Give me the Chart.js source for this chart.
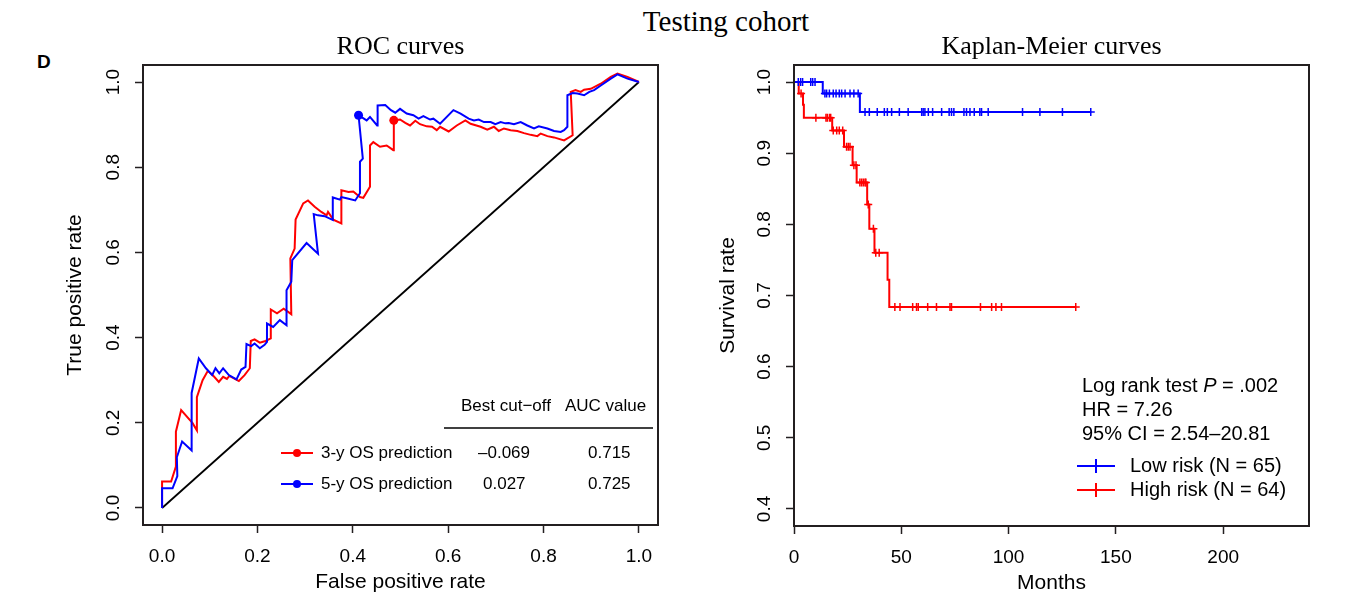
<!DOCTYPE html>
<html>
<head>
<meta charset="utf-8">
<script src="https://cdn.jsdelivr.net/npm/chart.js@4.4.1/dist/chart.umd.min.js"></script>
<style>
  body { margin: 0; width: 1365px; height: 606px; background: #fff; position: relative; overflow: hidden; }
  canvas { position: absolute; top: 0; }
  #roc { left: 0; }
  #km { left: 690px; }
  .txt { position: absolute; white-space: nowrap; color: #000; }
  #main { left: 726px; top: 7px; transform: translateX(-50%); font: 29px/29px "Liberation Serif", "Times New Roman", serif; }
  #panel { left: 37px; top: 52px; font: bold 19px/19px "Liberation Sans", Arial, sans-serif; }
</style>
</head>
<body>
<div class="txt" id="main">Testing cohort</div>
<div class="txt" id="panel">D</div>
<canvas id="roc" width="690" height="606" style="width:690px;height:606px"></canvas>
<canvas id="km" width="675" height="606" style="width:675px;height:606px"></canvas>
<script>
// ---- data ----
const rocTicks = [0, 0.2, 0.4, 0.6, 0.8, 1.0];
const diagonal = [0, 1];

// 3-year OS ROC (red)
const roc3Fpr = [0, 0, 0.019, 0.029, 0.029, 0.040, 0.064, 0.073, 0.073, 0.085, 0.096, 0.106, 0.119, 0.128, 0.136, 0.141,
  0.161, 0.173, 0.184, 0.186, 0.194, 0.205, 0.217, 0.228, 0.228, 0.241, 0.255, 0.271, 0.269, 0.278, 0.280, 0.296,
  0.306, 0.320, 0.334, 0.345, 0.348, 0.359, 0.376, 0.376, 0.391, 0.401, 0.415, 0.422, 0.436, 0.436, 0.443, 0.457,
  0.471, 0.485, 0.486, 0.499, 0.510, 0.520, 0.531, 0.541, 0.555, 0.566, 0.576, 0.583, 0.601, 0.618, 0.636, 0.647,
  0.668, 0.682, 0.696, 0.706, 0.717, 0.731, 0.745, 0.759, 0.773, 0.787, 0.794, 0.808, 0.822, 0.843, 0.861, 0.857,
  0.867, 0.878, 0.885, 0.899, 0.920, 0.941, 0.955, 0.976, 1.0];
const roc3Tpr = [0, 0.062, 0.062, 0.097, 0.179, 0.230, 0.199, 0.182, 0.260, 0.300, 0.322, 0.312, 0.296, 0.308, 0.303, 0.310,
  0.298, 0.312, 0.328, 0.392, 0.396, 0.388, 0.392, 0.398, 0.466, 0.457, 0.468, 0.455, 0.586, 0.609, 0.677, 0.715,
  0.722, 0.707, 0.695, 0.687, 0.695, 0.677, 0.668, 0.746, 0.742, 0.743, 0.730, 0.728, 0.754, 0.851, 0.859, 0.848,
  0.851, 0.840, 0.910, 0.912, 0.904, 0.898, 0.909, 0.901, 0.896, 0.895, 0.887, 0.895, 0.884, 0.898, 0.910, 0.902,
  0.895, 0.888, 0.895, 0.885, 0.891, 0.887, 0.885, 0.880, 0.876, 0.873, 0.879, 0.873, 0.870, 0.863, 0.875, 0.977,
  0.981, 0.977, 0.982, 0.984, 0.996, 1.012, 1.020, 1.012, 1.0];

// 5-year OS ROC (blue)
const roc5Fpr = [0, 0, 0.022, 0.032, 0.031, 0.042, 0.062, 0.062, 0.077, 0.092, 0.105, 0.112, 0.120, 0.128, 0.140, 0.156,
  0.166, 0.175, 0.177, 0.187, 0.194, 0.205, 0.215, 0.220, 0.220, 0.233, 0.247, 0.261, 0.261, 0.271, 0.273, 0.303,
  0.327, 0.318, 0.327, 0.341, 0.358, 0.358, 0.373, 0.376, 0.387, 0.405, 0.415, 0.415, 0.421, 0.412, 0.429, 0.436,
  0.451, 0.452, 0.468, 0.480, 0.489, 0.499, 0.513, 0.527, 0.538, 0.548, 0.562, 0.569, 0.583, 0.611, 0.626, 0.643,
  0.654, 0.664, 0.675, 0.689, 0.699, 0.710, 0.720, 0.727, 0.738, 0.752, 0.766, 0.780, 0.790, 0.808, 0.822, 0.836,
  0.843, 0.850, 0.850, 0.861, 0.871, 0.885, 0.896, 0.906, 0.920, 0.941, 0.955, 0.976, 1.0];
const roc5Tpr = [0, 0.046, 0.046, 0.075, 0.119, 0.156, 0.135, 0.270, 0.351, 0.328, 0.312, 0.328, 0.316, 0.328, 0.312, 0.302,
  0.325, 0.331, 0.385, 0.380, 0.386, 0.375, 0.383, 0.390, 0.433, 0.425, 0.441, 0.429, 0.511, 0.531, 0.582, 0.622,
  0.597, 0.690, 0.687, 0.685, 0.676, 0.729, 0.724, 0.730, 0.727, 0.722, 0.739, 0.813, 0.820, 0.922, 0.910, 0.918,
  0.898, 0.945, 0.946, 0.934, 0.928, 0.937, 0.926, 0.922, 0.914, 0.920, 0.912, 0.914, 0.902, 0.934, 0.926, 0.914,
  0.910, 0.912, 0.906, 0.906, 0.901, 0.906, 0.903, 0.904, 0.901, 0.906, 0.898, 0.891, 0.896, 0.891, 0.885, 0.883,
  0.887, 0.895, 0.969, 0.974, 0.973, 0.969, 0.977, 0.981, 0.992, 1.008, 1.018, 1.008, 1.0];

// best cut-off points: 3-y, 5-y
const cutFpr = [0.486, 0.412];
const cutTpr = [0.910, 0.922];

// Kaplan-Meier
const kmXTicks = [0, 50, 100, 150, 200];
const kmYTicks = [0.4, 0.5, 0.6, 0.7, 0.8, 0.9, 1.0];

const lowTimes = [13.4, 30.7];
const lowSurv = [0.984, 0.958];
const lowLast = 138.3;
const lowCensor = [2.0, 3.1, 4.0, 7.8, 8.7, 9.8, 14.4, 15.2, 16.5, 18.3, 19.6, 21.1, 22.2, 23.8, 26.1, 27.9, 29.9,
  33.1, 35.1, 38.8, 42.1, 43.5, 45.5, 49.1, 53.2, 59.5, 60.2, 61.0, 62.6, 64.6, 68.8, 72.3, 73.4, 74.5, 79.2,
  80.4, 82.0, 84.0, 86.6, 87.4, 90.5, 106.5, 114.6, 125.1, 138.3];

const highTimes = [2.2, 4.2, 4.6, 17.8, 23.3, 27.3, 29.2, 34.1, 35.1, 37.5, 43.6, 44.4];
const highSurv = [0.984, 0.968, 0.950, 0.932, 0.909, 0.883, 0.859, 0.828, 0.794, 0.760, 0.722, 0.684];
const highLast = 131.3;
const highCensor = [3.3, 10.2, 14.9, 15.5, 16.5, 17.1, 18.3, 19.9, 21.1, 22.7, 24.5, 25.3, 26.1, 27.9, 28.9, 30.7,
  31.5, 32.3, 33.1, 33.5, 34.6, 37.0, 38.1, 39.7, 47.0, 49.4, 55.3, 57.1, 57.9, 62.3, 66.4, 72.7, 73.4, 86.9,
  92.1, 94.1, 96.7, 131.3];

// ---- helpers ----
const SANS = '"Liberation Sans", Arial, sans-serif';
const SERIF = '"Liberation Serif", "Times New Roman", serif';
const INK = '#231f20';

function pairs(xs, ys) {
  return xs.map((x, i) => ({ x: x, y: ys[i] }));
}

function survAt(times, surv, t) {
  let s = 1;
  times.forEach((ti, i) => { if (ti <= t) s = surv[i]; });
  return s;
}

function stepPoints(times, surv, last) {
  const pts = [{ x: 0, y: 1 }];
  times.forEach((t, i) => pts.push({ x: t, y: surv[i] }));
  pts.push({ x: last, y: surv[surv.length - 1] });
  return pts;
}

function censorPoints(times, surv, cens) {
  return cens.map(t => ({ x: t, y: survAt(times, surv, t) }));
}

const boxPlugin = {
  id: 'box',
  afterDraw(chart) {
    const { ctx, chartArea: a } = chart;
    ctx.save();
    ctx.strokeStyle = INK;
    ctx.lineWidth = 2;
    ctx.strokeRect(a.left, a.top, a.right - a.left, a.bottom - a.top);
    ctx.restore();
  }
};

function axis(min, max, tickVals, fmt, size, title, titlePad, vertical) {
  const cfg = {
    type: 'linear',
    min: min,
    max: max,
    afterBuildTicks: s => { s.ticks = tickVals.map(v => ({ value: v })); },
    grid: { display: true, drawOnChartArea: false, drawTicks: true, tickLength: 8, tickColor: INK, tickWidth: 1.5 },
    border: { display: false },
    ticks: { color: '#000', font: { family: SANS, size: 19 }, callback: fmt, autoSkip: false },
    title: { display: true, text: title, color: '#000', font: { family: SANS, size: 21, lineHeight: 1.2 }, padding: titlePad }
  };
  if (vertical) {
    cfg.afterFit = s => { s.width = size; };
    cfg.ticks.minRotation = 90;
    cfg.ticks.maxRotation = 90;
    cfg.ticks.crossAlign = 'center';
    cfg.ticks.padding = 7.8;
  } else {
    cfg.afterFit = s => { s.height = size; };
    cfg.ticks.maxRotation = 0;
    cfg.ticks.padding = 12;
  }
  return cfg;
}

function chartTitle(text) {
  return {
    display: true, text: text, color: '#000', fullSize: false,
    font: { family: SERIF, size: 26, weight: 'normal', lineHeight: 1.2 },
    padding: { top: 31.4, bottom: 2.4 }
  };
}

// ---- ROC table / legend ----
const rocTable = {
  id: 'rocTable',
  afterDraw(chart) {
    const ctx = chart.ctx;
    ctx.save();
    ctx.fillStyle = '#000';
    ctx.font = '17px ' + SANS;
    ctx.textBaseline = 'middle';
    ctx.textAlign = 'left';
    ctx.fillText('Best cut\u2212off', 461, 406);
    ctx.fillText('AUC value', 565, 406);
    ctx.strokeStyle = '#000';
    ctx.lineWidth = 1.5;
    ctx.beginPath();
    ctx.moveTo(444, 428);
    ctx.lineTo(653, 428);
    ctx.stroke();
    const rows = [
      { y: 453, color: '#ff0000', label: '3-y OS prediction', cut: '\u20130.069', cutX: 478, auc: '0.715' },
      { y: 484, color: '#0000ff', label: '5-y OS prediction', cut: '0.027', cutX: 483, auc: '0.725' }
    ];
    rows.forEach(r => {
      ctx.strokeStyle = r.color;
      ctx.fillStyle = r.color;
      ctx.lineWidth = 2;
      ctx.beginPath();
      ctx.moveTo(281, r.y);
      ctx.lineTo(313, r.y);
      ctx.stroke();
      ctx.beginPath();
      ctx.arc(297, r.y, 4, 0, Math.PI * 2);
      ctx.fill();
      ctx.fillStyle = '#000';
      ctx.fillText(r.label, 321, r.y);
      ctx.fillText(r.cut, r.cutX, r.y);
      ctx.fillText(r.auc, 588, r.y);
    });
    ctx.restore();
  }
};

new Chart(document.getElementById('roc'), {
  type: 'scatter',
  data: {
    datasets: [
      { data: pairs(cutFpr, cutTpr), pointRadius: 4.5, pointBackgroundColor: ['#ff0000', '#0000ff'],
        pointBorderWidth: 0, showLine: false, order: 0 },
      { data: pairs(roc5Fpr, roc5Tpr), showLine: true, borderColor: '#0000ff', borderWidth: 2, pointRadius: 0, order: 1 },
      { data: pairs(roc3Fpr, roc3Tpr), showLine: true, borderColor: '#ff0000', borderWidth: 2, pointRadius: 0, order: 2 },
      { data: pairs(diagonal, diagonal), showLine: true, borderColor: '#000', borderWidth: 1.8, pointRadius: 0, order: 3 }
    ]
  },
  options: {
    responsive: false,
    animation: false,
    layout: { padding: { left: 0, right: 32, top: 0, bottom: 0 } },
    plugins: { legend: { display: false }, tooltip: { enabled: false }, title: chartTitle('ROC curves') },
    scales: {
      x: axis(-0.04, 1.04, rocTicks, v => v.toFixed(1), 81, 'False positive rate', { top: 0, bottom: 11.4 }, false),
      y: axis(-0.04, 1.04, rocTicks, v => v.toFixed(1), 143, 'True positive rate', { top: 62.4, bottom: 0 }, true)
    }
  },
  plugins: [boxPlugin, rocTable]
});

// ---- KM annotations ----
const kmNotes = {
  id: 'kmNotes',
  afterDraw(chart) {
    const ctx = chart.ctx;
    ctx.save();
    ctx.fillStyle = '#000';
    ctx.textBaseline = 'middle';
    ctx.textAlign = 'left';
    const f = '20px ' + SANS;
    let x = 392;
    ctx.font = f;
    ctx.fillText('Log rank test ', x, 386);
    x += ctx.measureText('Log rank test ').width;
    ctx.font = 'italic ' + f;
    ctx.fillText('P', x, 386);
    x += ctx.measureText('P').width;
    ctx.font = f;
    ctx.fillText(' = .002', x, 386);
    ctx.fillText('HR = 7.26', 392, 410);
    ctx.fillText('95% CI = 2.54\u201320.81', 392, 434);
    const rows = [
      { y: 466, color: '#0000ff', label: 'Low risk (N = 65)' },
      { y: 490, color: '#ff0000', label: 'High risk (N = 64)' }
    ];
    rows.forEach(r => {
      ctx.strokeStyle = r.color;
      ctx.lineWidth = 2;
      ctx.beginPath();
      ctx.moveTo(387, r.y);
      ctx.lineTo(425, r.y);
      ctx.moveTo(406, r.y - 7);
      ctx.lineTo(406, r.y + 7);
      ctx.stroke();
      ctx.fillStyle = '#000';
      ctx.fillText(r.label, 440, r.y);
    });
    ctx.restore();
  }
};

new Chart(document.getElementById('km'), {
  type: 'scatter',
  data: {
    datasets: [
      { data: censorPoints(lowTimes, lowSurv, lowCensor), pointStyle: 'cross', pointRadius: 4, borderColor: '#0000ff',
        pointBorderWidth: 1.5, showLine: false, order: 0 },
      { data: censorPoints(highTimes, highSurv, highCensor), pointStyle: 'cross', pointRadius: 4, borderColor: '#ff0000',
        pointBorderWidth: 1.5, showLine: false, order: 1 },
      { data: stepPoints(lowTimes, lowSurv, lowLast), showLine: true, stepped: 'before', borderColor: '#0000ff',
        borderWidth: 2, pointRadius: 0, order: 2 },
      { data: stepPoints(highTimes, highSurv, highLast), showLine: true, stepped: 'before', borderColor: '#ff0000',
        borderWidth: 2, pointRadius: 0, order: 3 }
    ]
  },
  options: {
    responsive: false,
    animation: false,
    layout: { padding: { left: 0, right: 56, top: 0, bottom: 0 } },
    plugins: { legend: { display: false }, tooltip: { enabled: false }, title: chartTitle('Kaplan-Meier curves') },
    scales: {
      x: axis(0, 240, kmXTicks, v => String(v), 80, 'Months', { top: 0, bottom: 10.4 }, false),
      y: axis(0.376, 1.024, kmYTicks, v => v.toFixed(1), 104, 'Survival rate', { top: 25.4, bottom: 0 }, true)
    }
  },
  plugins: [boxPlugin, kmNotes]
});
</script>
</body>
</html>
